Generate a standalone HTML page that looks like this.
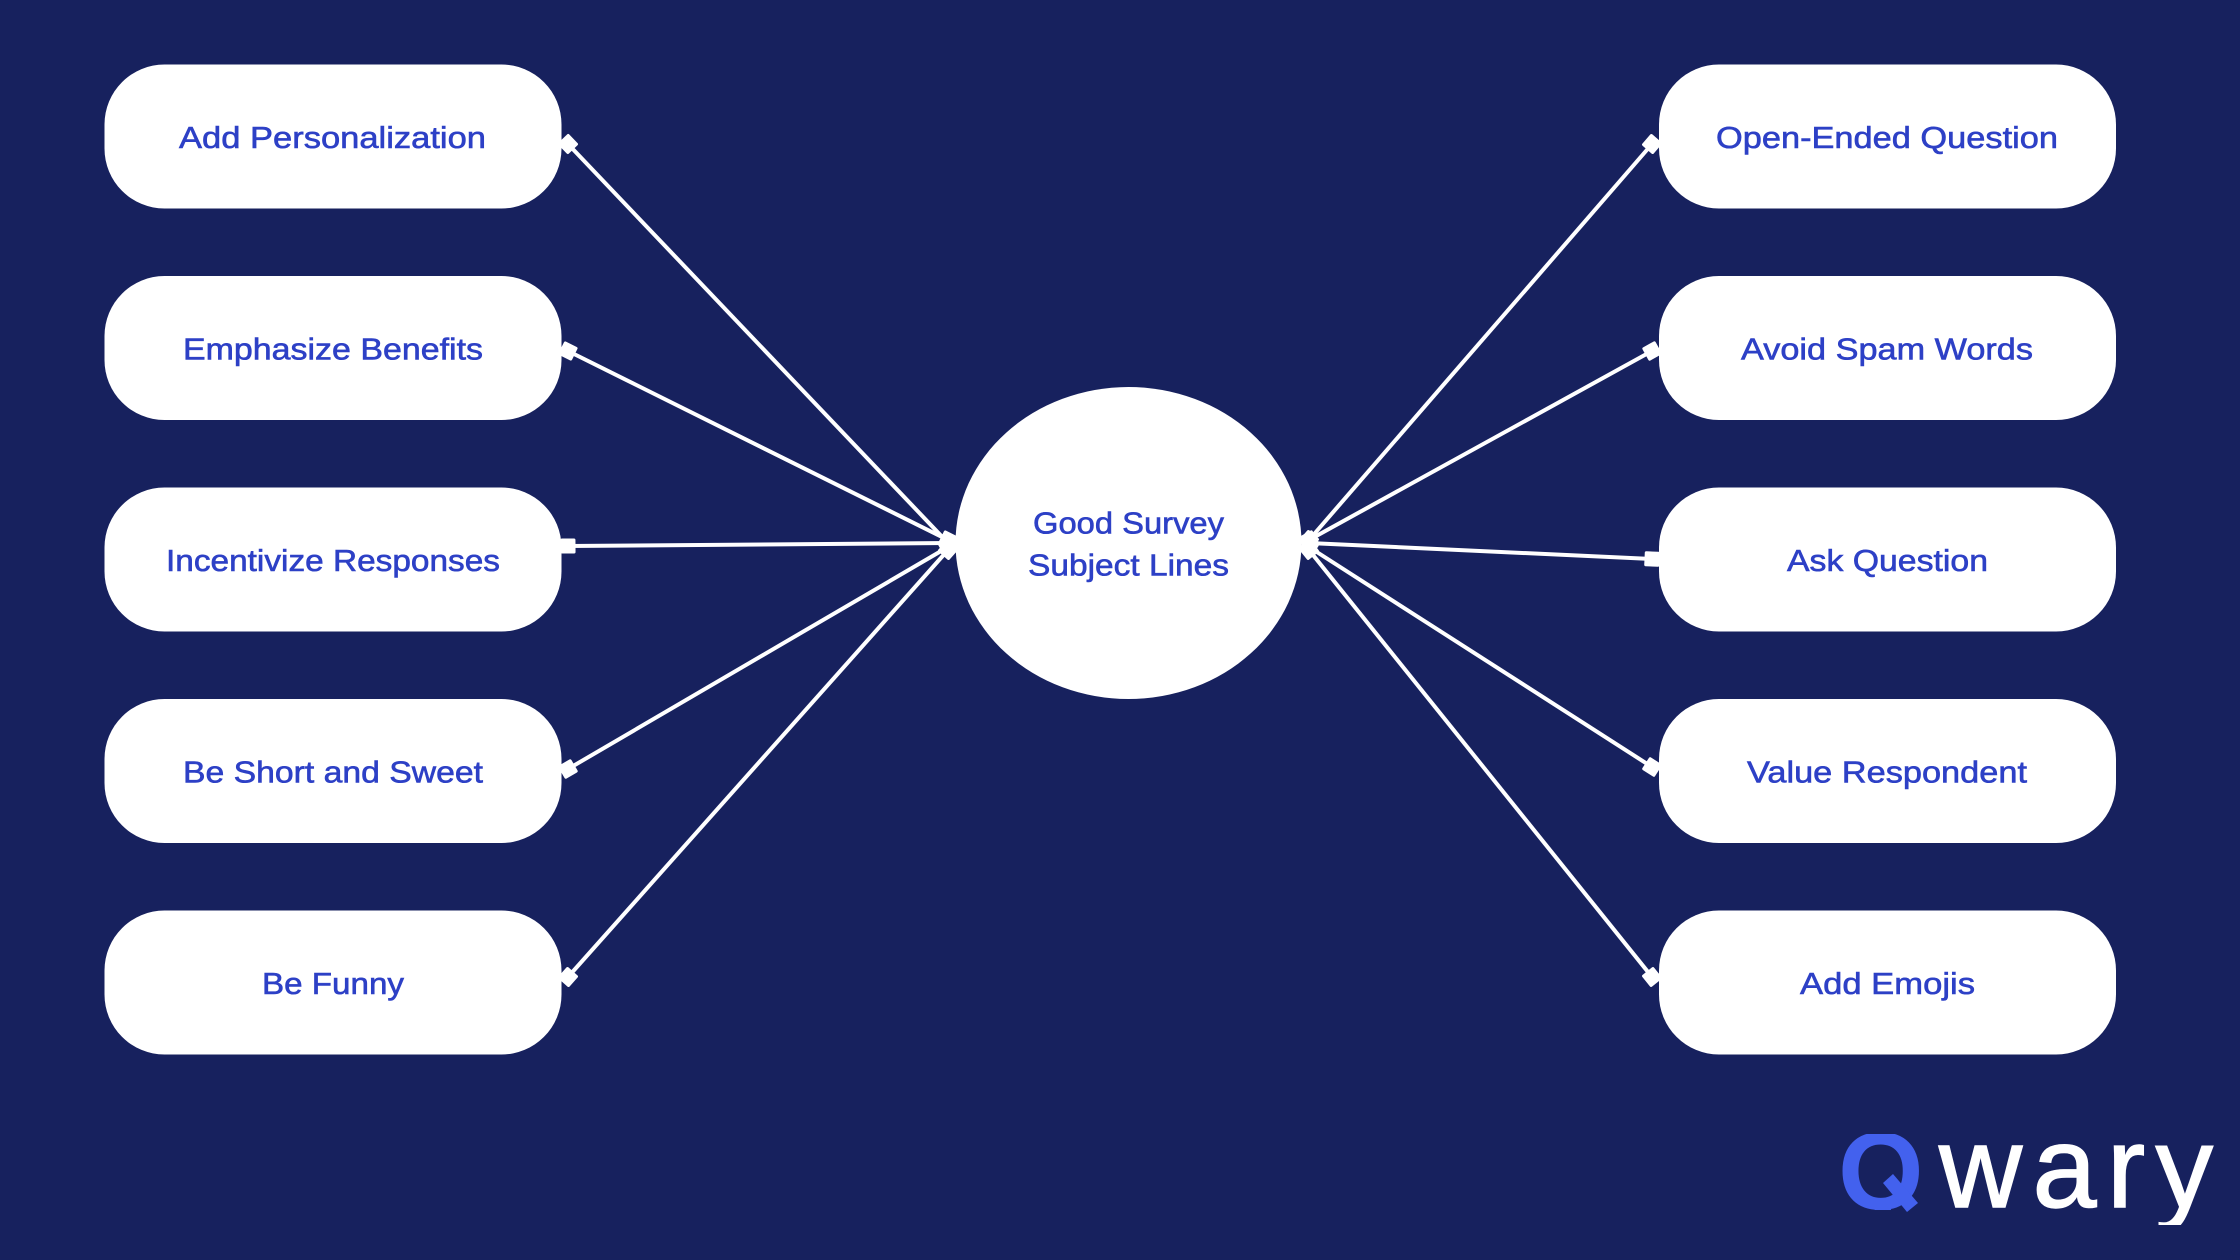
<!DOCTYPE html>
<html><head><meta charset="utf-8"><style>
html,body{margin:0;padding:0;background:#17215e}
svg{display:block}
.t{font-family:"Liberation Sans",sans-serif;font-size:31px;fill:#2d40c6;stroke:#2d40c6;stroke-width:.6px;text-anchor:start}
</style></head><body>
<svg width="2240" height="1260" viewBox="0 0 2240 1260" xmlns="http://www.w3.org/2000/svg">
<defs>
<marker id="m" markerUnits="userSpaceOnUse" markerWidth="20" markerHeight="20" refX="10" refY="10" orient="auto"><rect x="2.5" y="2.5" width="15" height="15" rx="1.5" fill="#fff"/></marker>
<clipPath id="qc"><rect x="1820" y="1134" width="120" height="76"/></clipPath>
<clipPath id="wc"><rect x="1930" y="1130" width="300" height="95"/></clipPath>
</defs>
<rect width="2240" height="1260" fill="#17215e"/>
<g stroke="#fff" stroke-width="4" fill="none">
<line x1="568" y1="144" x2="948" y2="543" marker-start="url(#m)" marker-end="url(#m)"/>
<line x1="568" y1="351" x2="948" y2="540" marker-start="url(#m)" marker-end="url(#m)"/>
<line x1="568" y1="546" x2="948" y2="543" marker-start="url(#m)" marker-end="url(#m)"/>
<line x1="568" y1="769" x2="948" y2="547" marker-start="url(#m)" marker-end="url(#m)"/>
<line x1="568" y1="977" x2="948" y2="550" marker-start="url(#m)" marker-end="url(#m)"/>
<line x1="1309" y1="540" x2="1652" y2="144" marker-start="url(#m)" marker-end="url(#m)"/>
<line x1="1309" y1="540" x2="1652" y2="351" marker-start="url(#m)" marker-end="url(#m)"/>
<line x1="1309" y1="543" x2="1652" y2="559" marker-start="url(#m)" marker-end="url(#m)"/>
<line x1="1309" y1="547" x2="1652" y2="767" marker-start="url(#m)" marker-end="url(#m)"/>
<line x1="1309" y1="550" x2="1652" y2="977" marker-start="url(#m)" marker-end="url(#m)"/>
</g>
<g fill="#fff">
<rect x="104.5" y="64.5" width="457" height="144" rx="60"/>
<rect x="104.5" y="276" width="457" height="144" rx="60"/>
<rect x="104.5" y="487.5" width="457" height="144" rx="60"/>
<rect x="104.5" y="699" width="457" height="144" rx="60"/>
<rect x="104.5" y="910.5" width="457" height="144" rx="60"/>
<rect x="1659" y="64.5" width="457" height="144" rx="60"/>
<rect x="1659" y="276" width="457" height="144" rx="60"/>
<rect x="1659" y="487.5" width="457" height="144" rx="60"/>
<rect x="1659" y="699" width="457" height="144" rx="60"/>
<rect x="1659" y="910.5" width="457" height="144" rx="60"/>
<ellipse cx="1128.5" cy="543" rx="173" ry="156"/>
</g>
<text class="t" x="179" y="148" textLength="307" lengthAdjust="spacingAndGlyphs">Add Personalization</text>
<text class="t" x="183" y="359.5" textLength="300" lengthAdjust="spacingAndGlyphs">Emphasize Benefits</text>
<text class="t" x="166" y="571" textLength="334" lengthAdjust="spacingAndGlyphs">Incentivize Responses</text>
<text class="t" x="183" y="782.5" textLength="300" lengthAdjust="spacingAndGlyphs">Be Short and Sweet</text>
<text class="t" x="262" y="994" textLength="142" lengthAdjust="spacingAndGlyphs">Be Funny</text>
<text class="t" x="1716" y="148" textLength="342" lengthAdjust="spacingAndGlyphs">Open-Ended Question</text>
<text class="t" x="1741" y="359.5" textLength="292" lengthAdjust="spacingAndGlyphs">Avoid Spam Words</text>
<text class="t" x="1787" y="571" textLength="201" lengthAdjust="spacingAndGlyphs">Ask Question</text>
<text class="t" x="1747" y="782.5" textLength="280" lengthAdjust="spacingAndGlyphs">Value Respondent</text>
<text class="t" x="1800" y="994" textLength="175" lengthAdjust="spacingAndGlyphs">Add Emojis</text>
<text class="t" x="1033" y="533.5" textLength="191" lengthAdjust="spacingAndGlyphs">Good Survey</text>
<text class="t" x="1028" y="575.5" textLength="201" lengthAdjust="spacingAndGlyphs">Subject Lines</text>
<text x="1838" y="1209" clip-path="url(#qc)" font-family="Liberation Sans, sans-serif" font-weight="700" font-size="110" fill="#4361ee">Q</text>
<polygon points="1883,1183 1893,1174 1918,1203 1907,1212" fill="#4361ee"/>
<g clip-path="url(#wc)"><text x="1939" y="1207" font-family="Liberation Sans, sans-serif" font-size="115" fill="#fff" stroke="#fff" stroke-width="1.5" textLength="274" lengthAdjust="spacing">wary</text></g>
</svg>
</body></html>
